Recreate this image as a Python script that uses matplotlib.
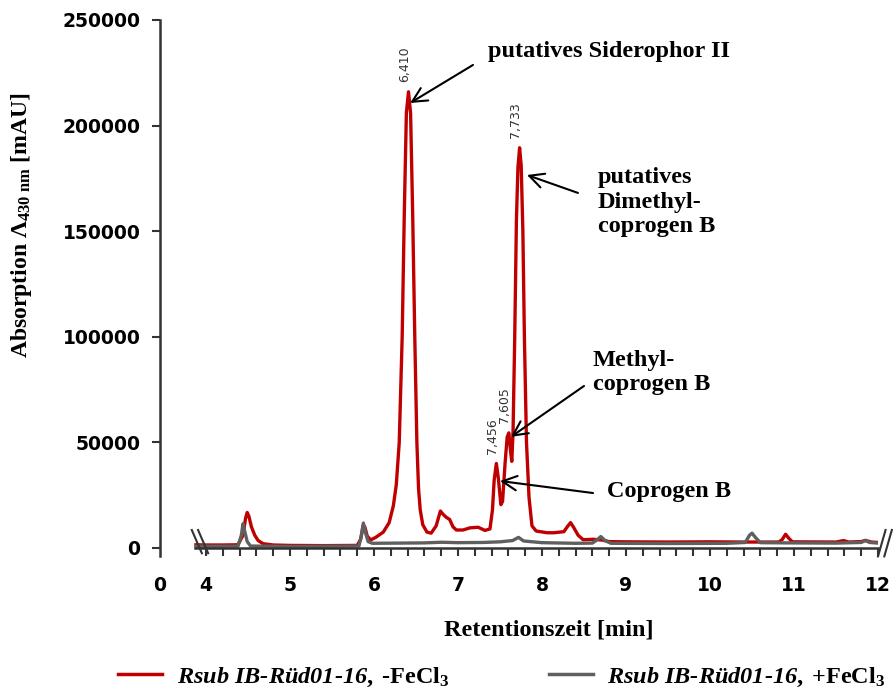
import matplotlib.pyplot as plt
from matplotlib.lines import Line2D

plt.rcParams['font.family'] = 'DejaVu Sans'
plt.rcParams['mathtext.fontset'] = 'custom'
plt.rcParams['mathtext.rm'] = 'Liberation Serif:bold'
plt.rcParams['mathtext.it'] = 'Liberation Serif:bold:italic'
plt.rcParams['mathtext.bf'] = 'Liberation Serif:bold'

# HPLC trace without FeCl3 (red)
red_t = [3.88, 4.00, 4.20, 4.38, 4.44, 4.47, 4.49, 4.51, 4.54, 4.58, 4.62, 4.68,
         4.80, 5.00, 5.40, 5.80, 5.84, 5.87, 5.89, 5.92, 5.96, 6.02, 6.11, 6.18,
         6.23, 6.265, 6.30, 6.335, 6.36, 6.385, 6.41, 6.435, 6.46, 6.485, 6.51, 6.53,
         6.55, 6.58, 6.63, 6.68, 6.74, 6.79, 6.82, 6.86, 6.90, 6.94, 6.98, 7.06,
         7.14, 7.24, 7.32, 7.38, 7.41, 7.43, 7.456, 7.48, 7.51, 7.53, 7.56, 7.585,
         7.605, 7.625, 7.64, 7.655, 7.675, 7.695, 7.713, 7.733, 7.752, 7.772, 7.79, 7.815,
         7.845, 7.88, 7.93, 7.98, 8.06, 8.14, 8.26, 8.30, 8.34, 8.38, 8.43, 8.49,
         8.61, 8.72, 8.80, 9.00, 9.50, 10.00, 10.40, 10.82, 10.86, 10.90, 10.94, 10.98,
         11.50, 11.59, 11.65, 11.80, 11.85, 11.92, 12.00]
red_v = [1500, 1400, 1400, 1500, 6000, 14000, 16800, 15000, 10000, 6000, 3500, 2000,
         1400, 1200, 1100, 1200, 4000, 10500, 10000, 5500, 3800, 5000, 7500, 12000,
         20000, 30000, 50000, 100000, 158000, 206000, 216000, 206000, 158000, 100000, 50000, 28000,
         18000, 11000, 7500, 7000, 10500, 17500, 16000, 14500, 13500, 10000, 8500, 8500,
         9500, 9800, 8300, 9000, 18000, 32000, 40000, 33000, 20500, 22000, 40000, 52500,
         54500, 46000, 41000, 55000, 100000, 155000, 180000, 189500, 181000, 150000, 100000, 50000,
         24000, 10500, 8000, 7700, 7200, 7200, 7700, 10000, 12000, 9500, 6000, 3900,
         4100, 3700, 3000, 2900, 2800, 2900, 2800, 2800, 4000, 6500, 4500, 2900,
         2800, 3500, 2800, 3000, 3600, 2800, 2600]

# HPLC trace with FeCl3 (grey)
grey_t = [3.88, 4.38, 4.42, 4.44, 4.46, 4.49, 4.53, 5.00, 5.50, 5.82, 5.85, 5.873,
          5.90, 5.93, 5.98, 6.30, 6.60, 6.80, 7.00, 7.30, 7.50, 7.65, 7.72, 7.78,
          8.00, 8.40, 8.60, 8.66, 8.70, 8.75, 8.82, 9.50, 10.20, 10.42, 10.47, 10.50,
          10.54, 10.60, 10.90, 11.50, 11.80, 11.85, 11.90, 12.00]
grey_v = [800, 800, 6000, 11500, 8000, 3000, 900, 700, 800, 900, 6000, 11800,
          7000, 3000, 2200, 2300, 2400, 2700, 2500, 2600, 2900, 3500, 5000, 3300,
          2500, 2200, 2300, 4000, 5400, 3500, 2200, 2100, 2200, 2600, 6000, 7000,
          5000, 2500, 2400, 2300, 2600, 3500, 2600, 2300]

peak_t = [6.41, 7.456, 7.605, 7.733]
peak_v = [216000, 40000, 54500, 189500]
peak_txt = ['6,410', '7,456', '7,605', '7,733']

# compound names: text anchor (left, centre) and arrow tail/head
names = ['putatives Siderophor II', 'putatives\nDimethyl-\ncoprogen B',
         'Methyl-\ncoprogen B', 'Coprogen B']
name_xy = [(7.357, 234900), (8.666, 163800), (8.607, 82900), (8.773, 26500)]
arrow_from = [(7.178, 228700), (8.428, 168100), (8.50, 76700), (8.607, 26000)]
arrow_to = [(6.43, 210700), (7.821, 176600), (7.63, 52600), (7.50, 31700)]

x_zero = 3.452  # where the "0" of the broken time axis sits
x_ticks = [4, 5, 6, 7, 8, 9, 10, 11, 12]
y_ticks = [0, 50000, 100000, 150000, 200000, 250000]

red = '#C00000'
grey = '#5F5F5F'

fig = plt.figure(figsize=(8.93, 6.91), dpi=100)
ax = fig.add_axes([0.1792, 0.1948, 0.804, 0.7763])

ax.plot(red_t, red_v, color=red, lw=2.4, solid_joinstyle='round')
ax.plot(grey_t, grey_v, color=grey, lw=2.4, solid_joinstyle='round')

ax.set_xlim(x_zero, 12.0)
ax.set_ylim(-4000, 250000)

for s in ['top', 'right']:
    ax.spines[s].set_visible(False)
ax.spines['left'].set_position(('data', x_zero))
ax.spines['left'].set_bounds(-4000, 250000)
ax.spines['bottom'].set_position(('data', 0))
ax.spines['bottom'].set_bounds(3.87, 12.0)
for s in ['left', 'bottom']:
    ax.spines[s].set_linewidth(1.8)
    ax.spines[s].set_color('#333333')

ax.set_yticks(y_ticks)
ax.set_yticklabels([str(v) for v in y_ticks])
ax.set_xticks([x_zero] + x_ticks)
ax.set_xticklabels(['0'] + [str(v) for v in x_ticks])
ax.set_xticks([4 + 0.2 * i for i in range(41)], minor=True)
ax.xaxis.get_major_ticks()[0].tick1line.set_visible(False)
ax.tick_params(axis='both', which='both', direction='out', length=6, width=1.5,
               color='#333333', labelsize=13.5, pad=8)
ax.tick_params(axis='x', which='major', pad=14)
for lab in ax.get_xticklabels() + ax.get_yticklabels():
    lab.set_fontweight('bold')

# axis break marks
kw = dict(color='#333333', lw=1.5, clip_on=False)
for dx in (0.0, 0.075):
    ax.plot([3.83 + dx, 3.95 + dx], [8500, -2500], **kw)
    ax.plot([12.0 + dx, 12.09 + dx], [-4000, 8500], **kw)

# retention time labels above the peaks
for t, v, s in zip(peak_t, peak_v, peak_txt):
    ax.annotate(s, (t, v), xytext=(-3, 7), textcoords='offset points',
                rotation=90, ha='center', va='bottom', fontsize=9, color='#333333')

serif = dict(family='Liberation Serif', weight='bold', fontsize=17.5)
for s, xy, a, b in zip(names, name_xy, arrow_from, arrow_to):
    ax.text(xy[0], xy[1], s, ha='left', va='center', linespacing=1.2, **serif)
    ax.annotate('', xy=b, xytext=a,
                arrowprops=dict(arrowstyle='->, head_length=0.8, head_width=0.4',
                                color='black', lw=1.5, mutation_scale=13,
                                shrinkA=0, shrinkB=0))

fig.text(22 / 893, 0.674, r'Absorption $\mathit{Λ}_{\mathrm{430\ nm}}$ [mAU]',
         rotation=90, ha='center', va='center',
         family='Liberation Serif', weight='bold', fontsize=17)
fig.text(549 / 893, (691 - 630) / 691, 'Retentionszeit [min]',
         ha='center', va='center', **serif)

handles = [Line2D([], [], color=red, lw=2.5), Line2D([], [], color=grey, lw=2.5)]
labels = [r'Rsub IB-Rüd01-16$\mathrm{,\;‐FeCl_3}$',
          r'Rsub IB-Rüd01-16$\mathrm{,\;{+}FeCl_3}$']
fig.legend(handles, labels, loc='center', bbox_to_anchor=(0.562, 0.02), ncol=2,
           frameon=False, handlelength=1.8, handletextpad=0.6, columnspacing=4.1,
           prop=dict(family='Liberation Serif', weight='bold', style='italic', size=17.5))

fig.savefig('out.png', dpi=100)
